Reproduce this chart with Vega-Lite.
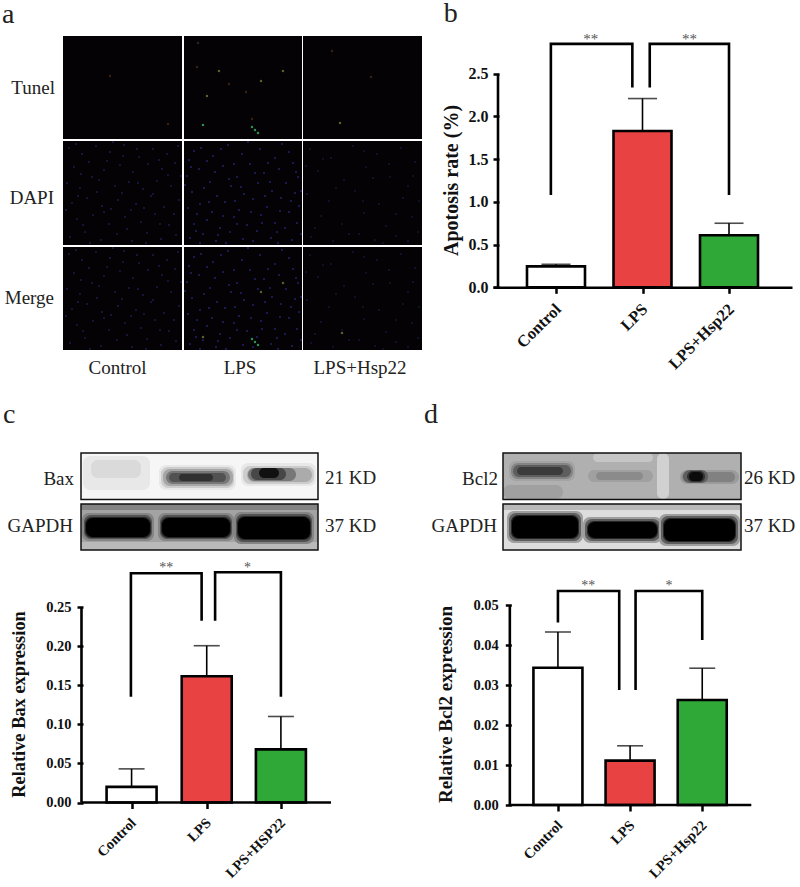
{"$schema":"https://vega.github.io/schema/vega-lite/v6.json","padding":{"top":-6,"left":0,"right":0,"bottom":0},"background":"white","bounds":"flush","spacing":0,"columns":4,"align":"each",
"config":{"view":{"stroke":null},"font":"Liberation Serif","text":{"font":"Liberation Serif"}},
"datasets":{
"dots":[{"s":"Control","x":6,"y":112,"m":218},{"s":"Control","x":19,"y":118,"m":224},{"s":"Control","x":33,"y":110,"m":216},{"s":"Control","x":47,"y":116,"m":222},{"s":"Control","x":61,"y":109,"m":215},{"s":"Control","x":76,"y":121,"m":227},{"s":"Control","x":90,"y":113,"m":219},{"s":"Control","x":104,"y":118,"m":224},{"s":"Control","x":115,"y":110,"m":216},{"s":"Control","x":11,"y":131,"m":237},{"s":"Control","x":26,"y":126,"m":232},{"s":"Control","x":41,"y":134,"m":240},{"s":"Control","x":57,"y":129,"m":235},{"s":"Control","x":70,"y":136,"m":242},{"s":"Control","x":85,"y":128,"m":234},{"s":"Control","x":99,"y":133,"m":239},{"s":"Control","x":112,"y":127,"m":233},{"s":"Control","x":4,"y":147,"m":253},{"s":"Control","x":17,"y":152,"m":258},{"s":"Control","x":36,"y":144,"m":250},{"s":"Control","x":52,"y":150,"m":256},{"s":"Control","x":66,"y":146,"m":252},{"s":"Control","x":80,"y":153,"m":259},{"s":"Control","x":94,"y":145,"m":251},{"s":"Control","x":108,"y":150,"m":256},{"s":"Control","x":9,"y":167,"m":273},{"s":"Control","x":24,"y":162,"m":268},{"s":"Control","x":39,"y":170,"m":276},{"s":"Control","x":55,"y":164,"m":270},{"s":"Control","x":41,"y":176,"m":282},{"s":"Control","x":73,"y":168,"m":274},{"s":"Control","x":88,"y":160,"m":266},{"s":"Control","x":101,"y":171,"m":277},{"s":"Control","x":116,"y":164,"m":270},{"s":"Control","x":14,"y":183,"m":289},{"s":"Control","x":30,"y":179,"m":285},{"s":"Control","x":46,"y":188,"m":294},{"s":"Control","x":62,"y":181,"m":287},{"s":"Control","x":78,"y":186,"m":292},{"s":"Control","x":92,"y":178,"m":284},{"s":"Control","x":106,"y":189,"m":295},{"s":"Control","x":7,"y":201,"m":307},{"s":"Control","x":22,"y":196,"m":302},{"s":"Control","x":38,"y":204,"m":310},{"s":"Control","x":54,"y":198,"m":304},{"s":"Control","x":69,"y":205,"m":311},{"s":"Control","x":84,"y":197,"m":303},{"s":"Control","x":98,"y":203,"m":309},{"s":"Control","x":113,"y":199,"m":305},
{"s":"Control","x":13,"y":108,"m":214},{"s":"Control","x":29,"y":141,"m":247},{"s":"Control","x":44,"y":125,"m":231},{"s":"Control","x":59,"y":157,"m":263},{"s":"Control","x":74,"y":113,"m":219},{"s":"Control","x":96,"y":124,"m":230},{"s":"Control","x":118,"y":140,"m":246},{"s":"Control","x":3,"y":174,"m":280},{"s":"Control","x":20,"y":189,"m":295},{"s":"Control","x":34,"y":156,"m":262},{"s":"Control","x":48,"y":173,"m":279},{"s":"Control","x":64,"y":193,"m":299},{"s":"Control","x":81,"y":172,"m":278},{"s":"Control","x":97,"y":188,"m":294},{"s":"Control","x":111,"y":178,"m":284},{"s":"Control","x":27,"y":207,"m":313},{"s":"Control","x":60,"y":120,"m":226},{"s":"Control","x":75,"y":147,"m":253},{"s":"Control","x":90,"y":158,"m":264},{"s":"Control","x":105,"y":139,"m":245},{"s":"Control","x":18,"y":138,"m":244},{"s":"Control","x":50,"y":106,"m":212},{"s":"Control","x":83,"y":207,"m":313},{"s":"Control","x":15,"y":160,"m":266},{"s":"Control","x":68,"y":174,"m":280},
{"s":"LPS","x":126,"y":124,"m":230},{"s":"LPS","x":138,"y":112,"m":218},{"s":"LPS","x":150,"y":120,"m":226},{"s":"LPS","x":165,"y":109,"m":215},{"s":"LPS","x":179,"y":118,"m":224},{"s":"LPS","x":197,"y":113,"m":219},{"s":"LPS","x":212,"y":122,"m":228},{"s":"LPS","x":226,"y":116,"m":222},{"s":"LPS","x":124,"y":140,"m":246},{"s":"LPS","x":136,"y":133,"m":239},{"s":"LPS","x":147,"y":146,"m":252},{"s":"LPS","x":160,"y":130,"m":236},{"s":"LPS","x":174,"y":141,"m":247},{"s":"LPS","x":187,"y":128,"m":234},{"s":"LPS","x":201,"y":137,"m":243},{"s":"LPS","x":216,"y":133,"m":239},{"s":"LPS","x":230,"y":127,"m":233},{"s":"LPS","x":129,"y":156,"m":262},{"s":"LPS","x":141,"y":152,"m":258},{"s":"LPS","x":154,"y":160,"m":266},{"s":"LPS","x":168,"y":150,"m":256},{"s":"LPS","x":181,"y":158,"m":264},{"s":"LPS","x":195,"y":147,"m":253},{"s":"LPS","x":209,"y":155,"m":261},{"s":"LPS","x":223,"y":147,"m":253},{"s":"LPS","x":235,"y":141,"m":247},{"s":"LPS","x":125,"y":172,"m":278},{"s":"LPS","x":137,"y":168,"m":274},{"s":"LPS","x":149,"y":176,"m":282},{"s":"LPS","x":162,"y":166,"m":272},{"s":"LPS","x":176,"y":174,"m":280},{"s":"LPS","x":190,"y":163,"m":269},{"s":"LPS","x":204,"y":171,"m":277},{"s":"LPS","x":218,"y":162,"m":268},{"s":"LPS","x":232,"y":157,"m":263},{"s":"LPS","x":131,"y":188,"m":294},{"s":"LPS","x":144,"y":184,"m":290},{"s":"LPS","x":157,"y":192,"m":298},{"s":"LPS","x":171,"y":181,"m":287},{"s":"LPS","x":184,"y":189,"m":295},{"s":"LPS","x":198,"y":179,"m":285},{"s":"LPS","x":212,"y":187,"m":293},{"s":"LPS","x":226,"y":176,"m":282},{"s":"LPS","x":236,"y":170,"m":276},{"s":"LPS","x":127,"y":202,"m":308},{"s":"LPS","x":140,"y":198,"m":304},{"s":"LPS","x":153,"y":205,"m":311},{"s":"LPS","x":167,"y":196,"m":302},{"s":"LPS","x":180,"y":203,"m":309},{"s":"LPS","x":194,"y":195,"m":301},{"s":"LPS","x":208,"y":202,"m":308},{"s":"LPS","x":222,"y":192,"m":298},{"s":"LPS","x":234,"y":187,"m":293},{"s":"LPS","x":229,"y":204,"m":310},
{"s":"LPS","x":131,"y":115,"m":221},{"s":"LPS","x":144,"y":125,"m":231},{"s":"LPS","x":158,"y":113,"m":219},{"s":"LPS","x":171,"y":128,"m":234},{"s":"LPS","x":185,"y":106,"m":212},{"s":"LPS","x":205,"y":127,"m":233},{"s":"LPS","x":219,"y":108,"m":214},{"s":"LPS","x":233,"y":136,"m":242},{"s":"LPS","x":122,"y":149,"m":255},{"s":"LPS","x":134,"y":178,"m":284},{"s":"LPS","x":152,"y":136,"m":242},{"s":"LPS","x":166,"y":143,"m":249},{"s":"LPS","x":178,"y":151,"m":257},{"s":"LPS","x":192,"y":137,"m":243},{"s":"LPS","x":207,"y":146,"m":252},{"s":"LPS","x":217,"y":175,"m":281},{"s":"LPS","x":228,"y":165,"m":271},{"s":"LPS","x":238,"y":155,"m":261},{"s":"LPS","x":133,"y":195,"m":301},{"s":"LPS","x":146,"y":166,"m":272},{"s":"LPS","x":160,"y":180,"m":286},{"s":"LPS","x":174,"y":188,"m":294},{"s":"LPS","x":188,"y":176,"m":282},{"s":"LPS","x":202,"y":160,"m":266},{"s":"LPS","x":214,"y":196,"m":302},{"s":"LPS","x":238,"y":198,"m":304},{"s":"LPS","x":137,"y":207,"m":313},{"s":"LPS","x":163,"y":207,"m":313},{"s":"LPS","x":190,"y":205,"m":311},{"s":"LPS","x":215,"y":207,"m":313},{"s":"LPS","x":128,"y":131,"m":237},{"s":"LPS","x":199,"y":187,"m":293},{"s":"LPS","x":155,"y":199,"m":305},{"s":"LPS","x":172,"y":165,"m":271},
{"s":"LPS+Hsp22","x":247,"y":113,"m":219},{"s":"LPS+Hsp22","x":268,"y":122,"m":228},{"s":"LPS+Hsp22","x":290,"y":110,"m":216},{"s":"LPS+Hsp22","x":314,"y":118,"m":224},{"s":"LPS+Hsp22","x":338,"y":112,"m":218},{"s":"LPS+Hsp22","x":352,"y":126,"m":232},{"s":"LPS+Hsp22","x":255,"y":135,"m":241},{"s":"LPS+Hsp22","x":281,"y":144,"m":250},{"s":"LPS+Hsp22","x":303,"y":131,"m":237},{"s":"LPS+Hsp22","x":327,"y":141,"m":247},{"s":"LPS+Hsp22","x":345,"y":150,"m":256},{"s":"LPS+Hsp22","x":244,"y":158,"m":264},{"s":"LPS+Hsp22","x":266,"y":165,"m":271},{"s":"LPS+Hsp22","x":292,"y":155,"m":261},{"s":"LPS+Hsp22","x":316,"y":168,"m":274},{"s":"LPS+Hsp22","x":340,"y":162,"m":268},{"s":"LPS+Hsp22","x":258,"y":180,"m":286},{"s":"LPS+Hsp22","x":279,"y":188,"m":294},{"s":"LPS+Hsp22","x":301,"y":177,"m":283},{"s":"LPS+Hsp22","x":323,"y":190,"m":296},{"s":"LPS+Hsp22","x":349,"y":181,"m":287},{"s":"LPS+Hsp22","x":248,"y":201,"m":307},{"s":"LPS+Hsp22","x":270,"y":205,"m":311},{"s":"LPS+Hsp22","x":296,"y":198,"m":304},{"s":"LPS+Hsp22","x":312,"y":204,"m":310},{"s":"LPS+Hsp22","x":333,"y":200,"m":306},{"s":"LPS+Hsp22","x":355,"y":196,"m":302},
{"s":"LPS+Hsp22","x":260,"y":123,"m":229},{"s":"LPS+Hsp22","x":301,"y":115,"m":221},{"s":"LPS+Hsp22","x":326,"y":128,"m":234},{"s":"LPS+Hsp22","x":350,"y":140,"m":246},{"s":"LPS+Hsp22","x":273,"y":152,"m":258},{"s":"LPS+Hsp22","x":300,"y":165,"m":271},{"s":"LPS+Hsp22","x":333,"y":178,"m":284},{"s":"LPS+Hsp22","x":252,"y":192,"m":298},{"s":"LPS+Hsp22","x":286,"y":198,"m":304},{"s":"LPS+Hsp22","x":310,"y":142,"m":248},{"s":"LPS+Hsp22","x":356,"y":165,"m":271},{"s":"LPS+Hsp22","x":243,"y":130,"m":236},{"s":"LPS+Hsp22","x":320,"y":207,"m":313},{"s":"LPS+Hsp22","x":345,"y":205,"m":311}],
"tunel":[{"k":"dim","x":47,"y":40},{"k":"dim","x":105,"y":88},{"k":"dim","x":135,"y":7},{"k":"dim","x":134,"y":31},{"k":"mid","x":156,"y":35},{"k":"mid","x":220,"y":35},{"k":"mid","x":198,"y":45},{"k":"dim","x":166,"y":48},{"k":"dim","x":183,"y":56},{"k":"mid","x":144,"y":60},{"k":"bright","x":140,"y":89},{"k":"dim","x":189,"y":83},{"k":"bright","x":189,"y":91},{"k":"bright","x":192,"y":94},{"k":"bright","x":195,"y":97},{"k":"dim","x":269,"y":15},{"k":"dim","x":308,"y":41},{"k":"mid","x":277,"y":87},{"k":"bright","x":189,"y":303},{"k":"bright","x":192,"y":306},{"k":"bright","x":195,"y":309},{"k":"mid","x":140,"y":301},{"k":"mid","x":220,"y":247},{"k":"mid","x":198,"y":256},{"k":"mid","x":279,"y":297}],
"bandsC":[{"x":2,"x2":69,"y":106,"y2":140,"d":0.08},{"x":10,"x2":60,"y":110,"y2":128,"d":0.13},{"x":78,"x2":155,"y":115,"y2":140,"d":0.08},{"x":80,"x2":153,"y":117,"y2":138,"d":0.18},{"x":82,"x2":152,"y":119,"y2":136,"d":0.32},{"x":85,"x2":149,"y":121,"y2":134,"d":0.5},{"x":88,"x2":145,"y":123,"y2":132,"d":0.65},{"x":98,"x2":132,"y":124,"y2":131,"d":0.8},{"x":160,"x2":235,"y":113,"y2":136,"d":0.08},{"x":162,"x2":233,"y":116,"y2":134,"d":0.18},{"x":166,"x2":231,"y":118,"y2":132,"d":0.3},{"x":167,"x2":215,"y":118,"y2":131,"d":0.5},{"x":170,"x2":205,"y":118,"y2":130,"d":0.7},{"x":178,"x2":198,"y":118,"y2":128,"d":0.95},{"x":1,"x2":73,"y":163,"y2":191,"d":0.45},{"x":3,"x2":71,"y":165,"y2":189,"d":0.65},{"x":4,"x2":70,"y":167,"y2":188,"d":0.85},{"x":5,"x2":69,"y":168,"y2":187,"d":1},{"x":77,"x2":153,"y":163,"y2":191,"d":0.45},{"x":79,"x2":151,"y":165,"y2":189,"d":0.65},{"x":80,"x2":150,"y":167,"y2":188,"d":0.85},{"x":81,"x2":149,"y":168,"y2":187,"d":1},{"x":153,"x2":233,"y":162,"y2":194,"d":0.45},{"x":155,"x2":231,"y":164,"y2":192,"d":0.65},{"x":156,"x2":230,"y":166,"y2":190,"d":0.85},{"x":157,"x2":229,"y":167,"y2":189,"d":1}],
"bandsD":[{"x":0,"x2":60,"y":135,"y2":149,"d":0.34},{"x":90,"x2":150,"y":103,"y2":112,"d":0.2},{"x":154,"x2":166,"y":103,"y2":149,"d":0.16},{"x":6,"x2":72,"y":111,"y2":131,"d":0.33},{"x":8,"x2":70,"y":113,"y2":129,"d":0.45},{"x":10,"x2":68,"y":115,"y2":127,"d":0.6},{"x":14,"x2":60,"y":117,"y2":125,"d":0.75},{"x":85,"x2":150,"y":120,"y2":132,"d":0.34},{"x":93,"x2":140,"y":122,"y2":130,"d":0.42},{"x":177,"x2":236,"y":120,"y2":134,"d":0.36},{"x":179,"x2":232,"y":122,"y2":132,"d":0.46},{"x":180,"x2":205,"y":120,"y2":133,"d":0.6},{"x":184,"x2":202,"y":121,"y2":132,"d":0.8},{"x":186,"x2":200,"y":122,"y2":131,"d":0.97},{"x":4,"x2":80,"y":161,"y2":193,"d":0.35},{"x":6,"x2":78,"y":163,"y2":191,"d":0.6},{"x":8,"x2":76,"y":165,"y2":189,"d":0.85},{"x":9,"x2":75,"y":166,"y2":188,"d":1},{"x":80,"x2":159,"y":167,"y2":193,"d":0.35},{"x":82,"x2":157,"y":169,"y2":191,"d":0.6},{"x":84,"x2":155,"y":171,"y2":189,"d":0.85},{"x":85,"x2":154,"y":172,"y2":188,"d":1},{"x":156,"x2":237,"y":164,"y2":196,"d":0.35},{"x":158,"x2":235,"y":166,"y2":194,"d":0.6},{"x":160,"x2":233,"y":168,"y2":192,"d":0.85},{"x":161,"x2":232,"y":169,"y2":191,"d":1}]
},
"concat":[
{"width":63,"height":1,"data":{"values":[{"n":0}]},"mark":{"type":"text","text":""},"encoding":{}},
{"width":359,"height":350,"layer":[
{"data":{"values":[{"s":"Tunel Control","x":0,"x2":119,"y":0,"y2":103},{"s":"Tunel LPS","x":121,"x2":239,"y":0,"y2":103},{"s":"Tunel LPS+Hsp22","x":240,"x2":359,"y":0,"y2":103},{"s":"DAPI Control","x":0,"x2":119,"y":105,"y2":209},{"s":"DAPI LPS","x":121,"x2":239,"y":105,"y2":209},{"s":"DAPI LPS+Hsp22","x":240,"x2":359,"y":105,"y2":209},{"s":"Merge Control","x":0,"x2":119,"y":211,"y2":314},{"s":"Merge LPS","x":121,"x2":239,"y":211,"y2":314},{"s":"Merge LPS+Hsp22","x":240,"x2":359,"y":211,"y2":314}]},"mark":{"type":"rect","color":"#050205"},"encoding":{"x":{"field":"x","type":"quantitative","scale":{"domain":[0,359],"nice":false},"axis":null},"x2":{"field":"x2"},"y":{"field":"y","type":"quantitative","scale":{"domain":[-36,314],"nice":false,"zero":false,"reverse":true},"axis":null},"y2":{"field":"y2"}}},
{"data":{"name":"dots"},"mark":{"type":"point","filled":true,"size":5,"opacity":1},"encoding":{"x":{"field":"x","type":"quantitative"},"y":{"field":"y","type":"quantitative"},"color":{"field":"s","type":"nominal","scale":{"domain":["Control","LPS","LPS+Hsp22"],"range":["#1a1b48","#1e2262","#141434"]},"legend":null}}},
{"data":{"name":"dots"},"mark":{"type":"point","filled":true,"size":5,"opacity":1},"encoding":{"x":{"field":"x","type":"quantitative"},"y":{"field":"m","type":"quantitative"},"color":{"field":"s","type":"nominal","legend":null}}},
{"data":{"name":"tunel"},"mark":{"type":"point","filled":true,"size":6},"encoding":{"x":{"field":"x","type":"quantitative"},"y":{"field":"y","type":"quantitative"},"fill":{"field":"k","type":"nominal","scale":{"domain":["dim","mid","bright"],"range":["#4a3018","#7f8a3a","#3fd070"]},"legend":null}}},
{"data":{"values":[{"t":"Tunel","x":-8,"y":52},{"t":"DAPI","x":-9,"y":162},{"t":"Merge","x":-9,"y":262}]},"mark":{"type":"text","align":"right","baseline":"middle","fontSize":19,"color":"#222"},"encoding":{"text":{"field":"t"},"x":{"field":"x","type":"quantitative"},"y":{"field":"y","type":"quantitative"}}},
{"data":{"values":[{"t":"Control","x":54.5,"y":332},{"t":"LPS","x":177,"y":332},{"t":"LPS+Hsp22","x":297,"y":332}]},"mark":{"type":"text","align":"center","baseline":"middle","fontSize":19,"color":"#222"},"encoding":{"text":{"field":"t"},"x":{"field":"x","type":"quantitative"},"y":{"field":"y","type":"quantitative"}}},
{"data":{"values":[{"t":"a","x":-61,"y":-13}]},"mark":{"type":"text","align":"left","baseline":"alphabetic","fontSize":28,"color":"#222"},"encoding":{"text":{"field":"t"},"x":{"field":"x","type":"quantitative"},"y":{"field":"y","type":"quantitative"}}}
]},
{"width":71,"height":1,"data":{"values":[{"n":0}]},"mark":{"type":"text","text":""},"encoding":{}},
{"width":299,"height":287.3,"layer":[
{"data":{"values":[{"g":"Control","c":60,"v":0.245,"e":0.27},{"g":"LPS","c":149.5,"v":1.83,"e":2.21},{"g":"LPS+Hsp22","c":239,"v":0.61,"e":0.75}]},"mark":{"type":"rule","color":"black","strokeWidth":1.6},"encoding":{"x":{"field":"c","type":"quantitative","scale":{"domain":[0,299],"nice":false},"axis":{"title":null,"values":[60,149.5,239],"labelExpr":"datum.value==60?'Control':datum.value==149.5?'LPS':'LPS+Hsp22'","labelAngle":-45,"labelAlign":"right","labelBaseline":"middle","labelFontSize":16.5,"labelFontWeight":"bold","labelColor":"#111","labelFont":"Liberation Serif","domainWidth":2.5,"domainColor":"black","tickColor":"black","tickWidth":2.5,"tickSize":6,"labelPadding":13,"labelOffset":2,"grid":false}},"y":{"field":"v","type":"quantitative","scale":{"domain":[0,3.364],"nice":false},"axis":{"title":"Apotosis rate (%)","values":[0,0.5,1,1.5,2,2.5],"format":".1f","domain":false,"grid":false,"tickColor":"black","tickWidth":2.5,"tickSize":-6,"labelPadding":11,"labelFontSize":16,"labelFontWeight":"bold","labelColor":"#111","labelFont":"Liberation Serif","titleFont":"Liberation Serif","titleFontSize":20,"titleFontWeight":"bold","titleColor":"#111","titleX":-32,"titleY":180}},"y2":{"field":"e"}}},
{"data":{"values":[{"g":"Control","c":60,"v":0.245,"e":0.27},{"g":"LPS","c":149.5,"v":1.83,"e":2.21},{"g":"LPS+Hsp22","c":239,"v":0.61,"e":0.75}]},"mark":{"type":"tick","color":"black","thickness":1.6,"size":29,"orient":"horizontal"},"encoding":{"x":{"field":"c","type":"quantitative"},"y":{"field":"e","type":"quantitative"}}},
{"data":{"values":[{"g":"Control","c":60,"v":0.245,"e":0.27},{"g":"LPS","c":149.5,"v":1.83,"e":2.21},{"g":"LPS+Hsp22","c":239,"v":0.61,"e":0.75}]},"mark":{"type":"bar","stroke":"black","strokeWidth":2.6,"size":58,"orient":"vertical"},"encoding":{"x":{"field":"c","type":"quantitative"},"y":{"field":"v","type":"quantitative"},"color":{"field":"g","type":"nominal","scale":{"domain":["Control","LPS","LPS+Hsp22"],"range":["#ffffff","#e84242","#2fa838"]},"legend":null}}},
{"data":{"values":[{"b":"axis","i":0,"x":0,"y":0},{"b":"axis","i":1,"x":0,"y":2.5},{"b":"l","i":0,"x":54.7,"y":1.08},{"b":"l","i":1,"x":54.7,"y":2.85},{"b":"l","i":2,"x":139,"y":2.85},{"b":"l","i":3,"x":139,"y":2.34},{"b":"r","i":0,"x":157,"y":2.34},{"b":"r","i":1,"x":157,"y":2.85},{"b":"r","i":2,"x":239,"y":2.85},{"b":"r","i":3,"x":239,"y":1.08}]},"mark":{"type":"line","color":"black","strokeWidth":2.6,"strokeJoin":"miter"},"encoding":{"x":{"field":"x","type":"quantitative"},"y":{"field":"y","type":"quantitative"},"detail":{"field":"b"},"order":{"field":"i"}}},
{"data":{"values":[{"t":"**","x":96,"y":2.91},{"t":"**","x":198,"y":2.91}]},"mark":{"type":"text","fontSize":15,"color":"#555","baseline":"middle","align":"center"},"encoding":{"text":{"field":"t"},"x":{"field":"x","type":"quantitative"},"y":{"field":"y","type":"quantitative"}}},
{"data":{"values":[{"t":"b","x":-56,"y":3.106}]},"mark":{"type":"text","fontSize":28,"color":"#222","baseline":"alphabetic","align":"left"},"encoding":{"text":{"field":"t"},"x":{"field":"x","type":"quantitative"},"y":{"field":"y","type":"quantitative"}}}
]},

{"width":63,"height":1,"data":{"values":[{"n":0}]},"mark":{"type":"text","text":""},"encoding":{}},
{"width":255,"height":200,"layer":[
{"data":{"values":[{"x":0,"x2":237,"y":103,"y2":149.5,"d":0.03},{"x":0,"x2":237,"y":154,"y2":200,"d":0.33},{"x":0,"x2":237,"y":154,"y2":160,"d":0.45},{"x":0,"x2":237,"y":192,"y2":200,"d":0.25}]},"mark":{"type":"rect"},"encoding":{"x":{"field":"x","type":"quantitative","scale":{"domain":[-18,237],"nice":false,"zero":false},"axis":null},"x2":{"field":"x2"},"y":{"field":"y","type":"quantitative","scale":{"domain":[0,200],"reverse":true,"nice":false},"axis":null},"y2":{"field":"y2"},"color":{"field":"d","type":"quantitative","scale":{"domain":[0,1],"range":["#ffffff","#000000"]},"legend":null}}},
{"data":{"name":"bandsC"},"mark":{"type":"rect","cornerRadius":7},"encoding":{"x":{"field":"x","type":"quantitative"},"x2":{"field":"x2"},"y":{"field":"y","type":"quantitative"},"y2":{"field":"y2"},"color":{"field":"d","type":"quantitative","legend":null}}},
{"data":{"values":[{"x":0,"x2":237,"y":103,"y2":149.5},{"x":0,"x2":237,"y":154,"y2":200}]},"mark":{"type":"rect","fillOpacity":0,"stroke":"#111","strokeWidth":1.5},"encoding":{"x":{"field":"x","type":"quantitative"},"x2":{"field":"x2"},"y":{"field":"y","type":"quantitative"},"y2":{"field":"y2"}}},
{"data":{"values":[{"t":"Bax","x":-7,"y":129},{"t":"GAPDH","x":-8,"y":176}]},"mark":{"type":"text","align":"right","baseline":"middle","fontSize":19,"color":"#222"},"encoding":{"text":{"field":"t"},"x":{"field":"x","type":"quantitative"},"y":{"field":"y","type":"quantitative"}}},
{"data":{"values":[{"t":"21 KD","x":244,"y":128},{"t":"37 KD","x":244,"y":176}]},"mark":{"type":"text","align":"left","baseline":"middle","fontSize":19,"color":"#222"},"encoding":{"text":{"field":"t"},"x":{"field":"x","type":"quantitative"},"y":{"field":"y","type":"quantitative"}}},
{"data":{"values":[{"t":"c","x":-78,"y":73}]},"mark":{"type":"text","align":"left","baseline":"alphabetic","fontSize":28,"color":"#222"},"encoding":{"text":{"field":"t"},"x":{"field":"x","type":"quantitative"},"y":{"field":"y","type":"quantitative"}}}
]},
{"width":71,"height":1,"data":{"values":[{"n":0}]},"mark":{"type":"text","text":""},"encoding":{}},
{"width":248,"height":200,"layer":[
{"data":{"values":[{"x":0,"x2":238,"y":103,"y2":149.5,"d":0.28},{"x":0,"x2":238,"y":154,"y2":200,"d":0.12},{"x":0,"x2":238,"y":154,"y2":160,"d":0.25}]},"mark":{"type":"rect"},"encoding":{"x":{"field":"x","type":"quantitative","scale":{"domain":[-10,238],"nice":false,"zero":false},"axis":null},"x2":{"field":"x2"},"y":{"field":"y","type":"quantitative","scale":{"domain":[0,200],"reverse":true,"nice":false},"axis":null},"y2":{"field":"y2"},"color":{"field":"d","type":"quantitative","scale":{"domain":[0,1],"range":["#ffffff","#000000"]},"legend":null}}},
{"data":{"name":"bandsD"},"mark":{"type":"rect","cornerRadius":7},"encoding":{"x":{"field":"x","type":"quantitative"},"x2":{"field":"x2"},"y":{"field":"y","type":"quantitative"},"y2":{"field":"y2"},"color":{"field":"d","type":"quantitative","legend":null}}},
{"data":{"values":[{"x":0,"x2":238,"y":103,"y2":149.5},{"x":0,"x2":238,"y":154,"y2":200}]},"mark":{"type":"rect","fillOpacity":0,"stroke":"#111","strokeWidth":1.5},"encoding":{"x":{"field":"x","type":"quantitative"},"x2":{"field":"x2"},"y":{"field":"y","type":"quantitative"},"y2":{"field":"y2"}}},
{"data":{"values":[{"t":"Bcl2","x":-5,"y":129},{"t":"GAPDH","x":-6,"y":176}]},"mark":{"type":"text","align":"right","baseline":"middle","fontSize":19,"color":"#222"},"encoding":{"text":{"field":"t"},"x":{"field":"x","type":"quantitative"},"y":{"field":"y","type":"quantitative"}}},
{"data":{"values":[{"t":"26 KD","x":241,"y":128},{"t":"37 KD","x":241,"y":176}]},"mark":{"type":"text","align":"left","baseline":"middle","fontSize":19,"color":"#222"},"encoding":{"text":{"field":"t"},"x":{"field":"x","type":"quantitative"},"y":{"field":"y","type":"quantitative"}}},
{"data":{"values":[{"t":"d","x":-79,"y":73}]},"mark":{"type":"text","align":"left","baseline":"alphabetic","fontSize":28,"color":"#222"},"encoding":{"text":{"field":"t"},"x":{"field":"x","type":"quantitative"},"y":{"field":"y","type":"quantitative"}}}
]},

{"width":63,"height":1,"data":{"values":[{"n":0}]},"mark":{"type":"text","text":""},"encoding":{}},
{"width":273,"height":252.5,"layer":[
{"data":{"values":[{"g":"Control","c":52,"v":0.02,"e":0.043},{"g":"LPS","c":130,"v":0.1615,"e":0.2005},{"g":"LPS+HSP22","c":207,"v":0.068,"e":0.11}]},"mark":{"type":"rule","color":"black","strokeWidth":1.6},"encoding":{"x":{"field":"c","type":"quantitative","scale":{"domain":[-14,259],"nice":false,"zero":false},"axis":{"title":null,"values":[52,130,207],"labelExpr":"datum.value==52?'Control':datum.value==130?'LPS':'LPS+HSP22'","domain":false,"grid":false,"labelAngle":-45,"labelAlign":"right","labelBaseline":"middle","labelFontSize":14.5,"labelFontWeight":"bold","labelColor":"#111","labelFont":"Liberation Serif","tickColor":"black","tickWidth":2.5,"tickSize":6,"labelPadding":12,"labelOffset":2}},"y":{"field":"v","type":"quantitative","scale":{"domain":[0,0.3229],"nice":false},"axis":{"title":"Relative Bax expression","values":[0,0.05,0.1,0.15,0.2,0.25],"format":".2f","domain":false,"grid":false,"offset":-14,"tickColor":"black","tickWidth":2.5,"tickSize":-6,"labelPadding":12,"labelFontSize":14.5,"labelFontWeight":"bold","labelColor":"#111","labelFont":"Liberation Serif","titleFont":"Liberation Serif","titleFontSize":18.4,"titleFontWeight":"bold","titleColor":"#111","titleX":-49,"titleY":154}},"y2":{"field":"e"}}},
{"data":{"values":[{"g":"Control","c":52,"v":0.02,"e":0.043},{"g":"LPS","c":130,"v":0.1615,"e":0.2005},{"g":"LPS+HSP22","c":207,"v":0.068,"e":0.11}]},"mark":{"type":"tick","color":"black","thickness":1.6,"size":26,"orient":"horizontal"},"encoding":{"x":{"field":"c","type":"quantitative"},"y":{"field":"e","type":"quantitative"}}},
{"data":{"values":[{"g":"Control","c":52,"v":0.02,"e":0.043},{"g":"LPS","c":130,"v":0.1615,"e":0.2005},{"g":"LPS+HSP22","c":207,"v":0.068,"e":0.11}]},"mark":{"type":"bar","stroke":"black","strokeWidth":2.6,"size":50,"orient":"vertical"},"encoding":{"x":{"field":"c","type":"quantitative"},"y":{"field":"v","type":"quantitative"},"color":{"field":"g","type":"nominal","scale":{"domain":["Control","LPS","LPS+HSP22"],"range":["#ffffff","#e84242","#2fa838"]},"legend":null}}},
{"data":{"values":[{"b":"xaxis","i":0,"x":0,"y":0},{"b":"xaxis","i":1,"x":259,"y":0},{"b":"axis","i":0,"x":0,"y":0},{"b":"axis","i":1,"x":0,"y":0.25},{"b":"l","i":0,"x":51.3,"y":0.1353},{"b":"l","i":1,"x":51.3,"y":0.2931},{"b":"l","i":2,"x":124.7,"y":0.2931},{"b":"l","i":3,"x":124.7,"y":0.2325},{"b":"r","i":0,"x":138.7,"y":0.2325},{"b":"r","i":1,"x":138.7,"y":0.2944},{"b":"r","i":2,"x":207,"y":0.2944},{"b":"r","i":3,"x":207,"y":0.1353}]},"mark":{"type":"line","color":"black","strokeWidth":2.6,"strokeJoin":"miter"},"encoding":{"x":{"field":"x","type":"quantitative"},"y":{"field":"y","type":"quantitative"},"detail":{"field":"b"},"order":{"field":"i"}}},
{"data":{"values":[{"t":"**","x":88,"y":0.2997},{"t":"*","x":172.3,"y":0.2997}]},"mark":{"type":"text","fontSize":14,"color":"#555","baseline":"middle","align":"center"},"encoding":{"text":{"field":"t"},"x":{"field":"x","type":"quantitative"},"y":{"field":"y","type":"quantitative"}}}
]},
{"width":71,"height":1,"data":{"values":[{"n":0}]},"mark":{"type":"text","text":""},"encoding":{}},
{"width":263.3,"height":255,"layer":[
{"data":{"values":[{"g":"Control","c":50,"v":0.0343,"e":0.04325},{"g":"LPS","c":125,"v":0.0111,"e":0.0148},{"g":"LPS+Hsp22","c":200,"v":0.02625,"e":0.0342}]},"mark":{"type":"rule","color":"black","strokeWidth":1.6},"encoding":{"x":{"field":"c","type":"quantitative","scale":{"domain":[-12.3,251],"nice":false,"zero":false},"axis":{"title":null,"values":[50,125,200],"labelExpr":"datum.value==50?'Control':datum.value==125?'LPS':'LPS+Hsp22'","domain":false,"grid":false,"labelAngle":-45,"labelAlign":"right","labelBaseline":"middle","labelFontSize":14.5,"labelFontWeight":"bold","labelColor":"#111","labelFont":"Liberation Serif","tickColor":"black","tickWidth":2.5,"tickSize":6,"labelPadding":12,"labelOffset":2}},"y":{"field":"v","type":"quantitative","scale":{"domain":[0,0.06375],"nice":false},"axis":{"title":"Relative Bcl2 expression","values":[0,0.01,0.02,0.03,0.04,0.05],"format":".2f","domain":false,"grid":false,"offset":-12.3,"tickColor":"black","tickWidth":2.5,"tickSize":-6,"labelPadding":13,"labelFontSize":14.5,"labelFontWeight":"bold","labelColor":"#111","labelFont":"Liberation Serif","titleFont":"Liberation Serif","titleFontSize":19,"titleFontWeight":"bold","titleColor":"#111","titleX":-50,"titleY":154}},"y2":{"field":"e"}}},
{"data":{"values":[{"g":"Control","c":50,"v":0.0343,"e":0.04325},{"g":"LPS","c":125,"v":0.0111,"e":0.0148},{"g":"LPS+Hsp22","c":200,"v":0.02625,"e":0.0342}]},"mark":{"type":"tick","color":"black","thickness":1.6,"size":26,"orient":"horizontal"},"encoding":{"x":{"field":"c","type":"quantitative"},"y":{"field":"e","type":"quantitative"}}},
{"data":{"values":[{"g":"Control","c":50,"v":0.0343,"e":0.04325},{"g":"LPS","c":125,"v":0.0111,"e":0.0148},{"g":"LPS+Hsp22","c":200,"v":0.02625,"e":0.0342}]},"mark":{"type":"bar","stroke":"black","strokeWidth":2.6,"size":49,"orient":"vertical"},"encoding":{"x":{"field":"c","type":"quantitative"},"y":{"field":"v","type":"quantitative"},"color":{"field":"g","type":"nominal","scale":{"domain":["Control","LPS","LPS+Hsp22"],"range":["#ffffff","#e84242","#2fa838"]},"legend":null}}},
{"data":{"values":[{"b":"xaxis","i":0,"x":0,"y":0},{"b":"xaxis","i":1,"x":251,"y":0},{"b":"axis","i":0,"x":0,"y":0},{"b":"axis","i":1,"x":0,"y":0.05},{"b":"l","i":0,"x":50,"y":0.0456},{"b":"l","i":1,"x":50,"y":0.0535},{"b":"l","i":2,"x":113.7,"y":0.0535},{"b":"l","i":3,"x":113.7,"y":0.02875},{"b":"r","i":0,"x":130.7,"y":0.02875},{"b":"r","i":1,"x":130.7,"y":0.0535},{"b":"r","i":2,"x":200,"y":0.0535},{"b":"r","i":3,"x":200,"y":0.04125}]},"mark":{"type":"line","color":"black","strokeWidth":2.6,"strokeJoin":"miter"},"encoding":{"x":{"field":"x","type":"quantitative"},"y":{"field":"y","type":"quantitative"},"detail":{"field":"b"},"order":{"field":"i"}}},
{"data":{"values":[{"t":"**","x":81.4,"y":0.05475},{"t":"*","x":165.4,"y":0.05475}]},"mark":{"type":"text","fontSize":14,"color":"#555","baseline":"middle","align":"center"},"encoding":{"text":{"field":"t"},"x":{"field":"x","type":"quantitative"},"y":{"field":"y","type":"quantitative"}}}
]}
]}
